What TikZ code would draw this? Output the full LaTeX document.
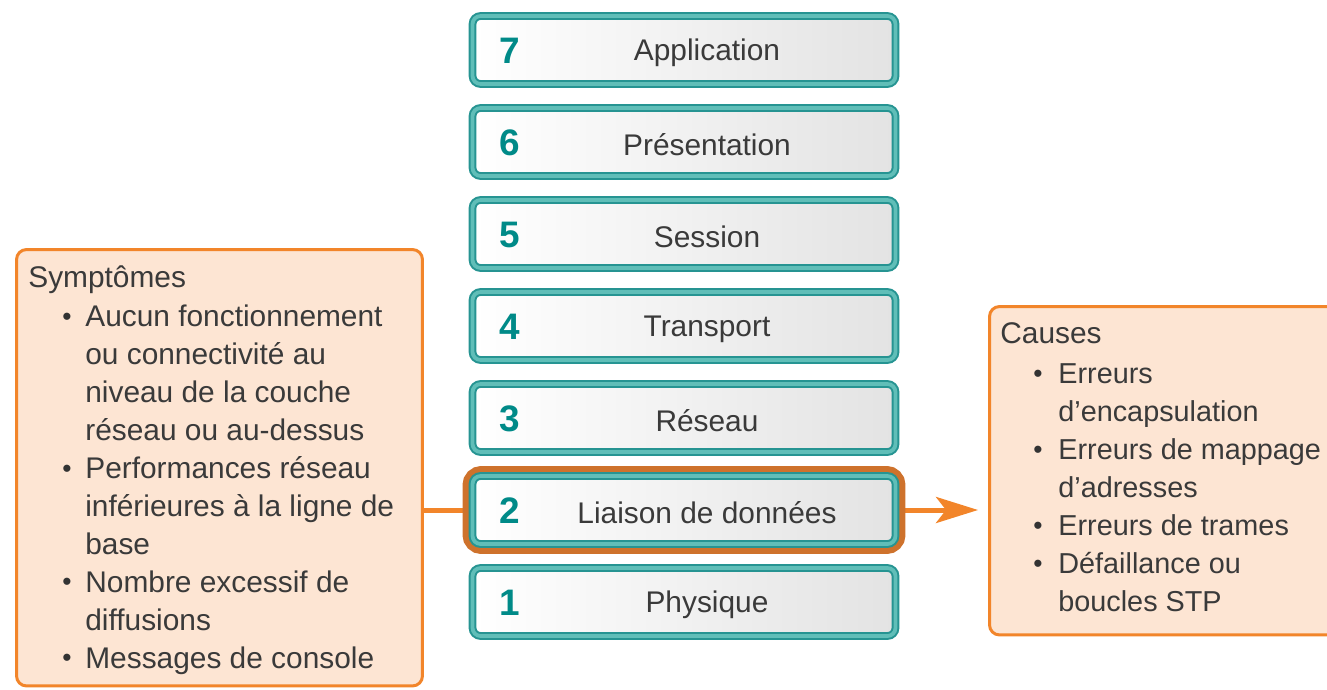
\documentclass[tikz,border=0pt]{standalone}
\usepackage{fontspec}
\setmainfont{Liberation Sans}
\usetikzlibrary{positioning, shadows, backgrounds, arrows.meta}

\definecolor{tealfonce}{RGB}{38,148,146}
\definecolor{tealclair}{RGB}{96,190,184}
\definecolor{tealnum}{RGB}{0,138,136}
\definecolor{orangebord}{RGB}{242,133,42}
\definecolor{orangehalo}{RGB}{206,114,44}
\definecolor{peche}{RGB}{253,229,211}
\definecolor{texte}{RGB}{58,58,58}

\newcommand{\puce}{\raisebox{0.1ex}{\fontsize{15}{15}\selectfont\color{black!80}\textbullet}}

\begin{document}
\begin{tikzpicture}[x=0.02cm, y=-0.02cm,
  font=\fontsize{17}{21.6}\selectfont, text=texte,
  couche/.style={rounded corners=0.16cm, minimum width=8.46cm, minimum height=1.36cm,
    draw=tealfonce, double=tealclair, line width=0.04cm, double distance=0.075cm,
    left color=white, right color=gray!22,
    drop shadow={shadow xshift=0.02cm, shadow yshift=-0.06cm, opacity=0.4, fill=gray}},
  numero/.style={font=\fontsize{21}{24}\selectfont\bfseries, text=tealnum, inner sep=0},
  boite/.style={draw=orangebord, line width=0.06cm, fill=peche, rounded corners=0.2cm},
  titre/.style={anchor=base west, inner sep=0},
  liste/.style={anchor=north west, inner sep=0, align=left},
  fleche/.style={draw=orangebord, line width=0.1cm}
]
\useasboundingbox (0,0) rectangle (1327,689);

% pile des couches OSI
\foreach \i/\nom in {7/Application, 6/Présentation, 5/Session, 4/Transport,
                     3/Réseau, 2/Liaison de données, 1/Physique} {
  \node[couche] (c\i) at (684, {50+(7-\i)*92}) {};
  \node[numero, anchor=west] (n\i) at ([xshift=0.55cm, yshift=-0.02cm]c\i.west) {\i};
  \node (e\i) at ([xshift=0.46cm, yshift=-0.06cm]c\i.center) {\nom};
}

% symptomes
\node[boite, minimum width=8.12cm, minimum height=8.73cm] (symp) at (219.5,467.75) {};
\node[titre] (symptitre) at (28,287) {Symptômes};
\node[liste] (symptliste) at (62,300) {\begin{tabular}{@{}p{0.46cm}@{}l@{}}
\puce & Aucun fonctionnement\\
      & ou connectivité au\\
      & niveau de la couche\\
      & réseau ou au-dessus\\
\puce & Performances réseau\\
      & inférieures à la ligne de\\
      & base\\
\puce & Nombre excessif de\\
      & diffusions\\
\puce & Messages de console
\end{tabular}};

% causes
\node[boite, minimum width=7.01cm, minimum height=6.57cm] (causes) at (1164.75,470.75) {};
\node[titre] (causestitre) at (1000,343) {Causes};
\node[liste, font=\fontsize{16.4}{21.6}\selectfont] (causesliste) at (1033,357) {\begin{tabular}{@{}p{0.5cm}@{}l@{}}
\puce & Erreurs\\
      & d'encapsulation\\
\puce & Erreurs de mappage\\
      & d'adresses\\
\puce & Erreurs de trames\\
\puce & Défaillance ou\\
      & boucles STP
\end{tabular}};

\begin{scope}[on background layer]
\draw[fleche] (symp.east |- c2.west) -- (c2.west);
\draw[fleche, -{Stealth[length=0.84cm, width=0.52cm, inset=0.2cm]}]
  (c2.east) -- ([xshift=-0.2cm]causes.west |- c2.east);
\draw[orangehalo, line width=0.36cm, rounded corners=0.2cm] (c2.south west) rectangle (c2.north east);
\end{scope}

\end{tikzpicture}
\end{document}
